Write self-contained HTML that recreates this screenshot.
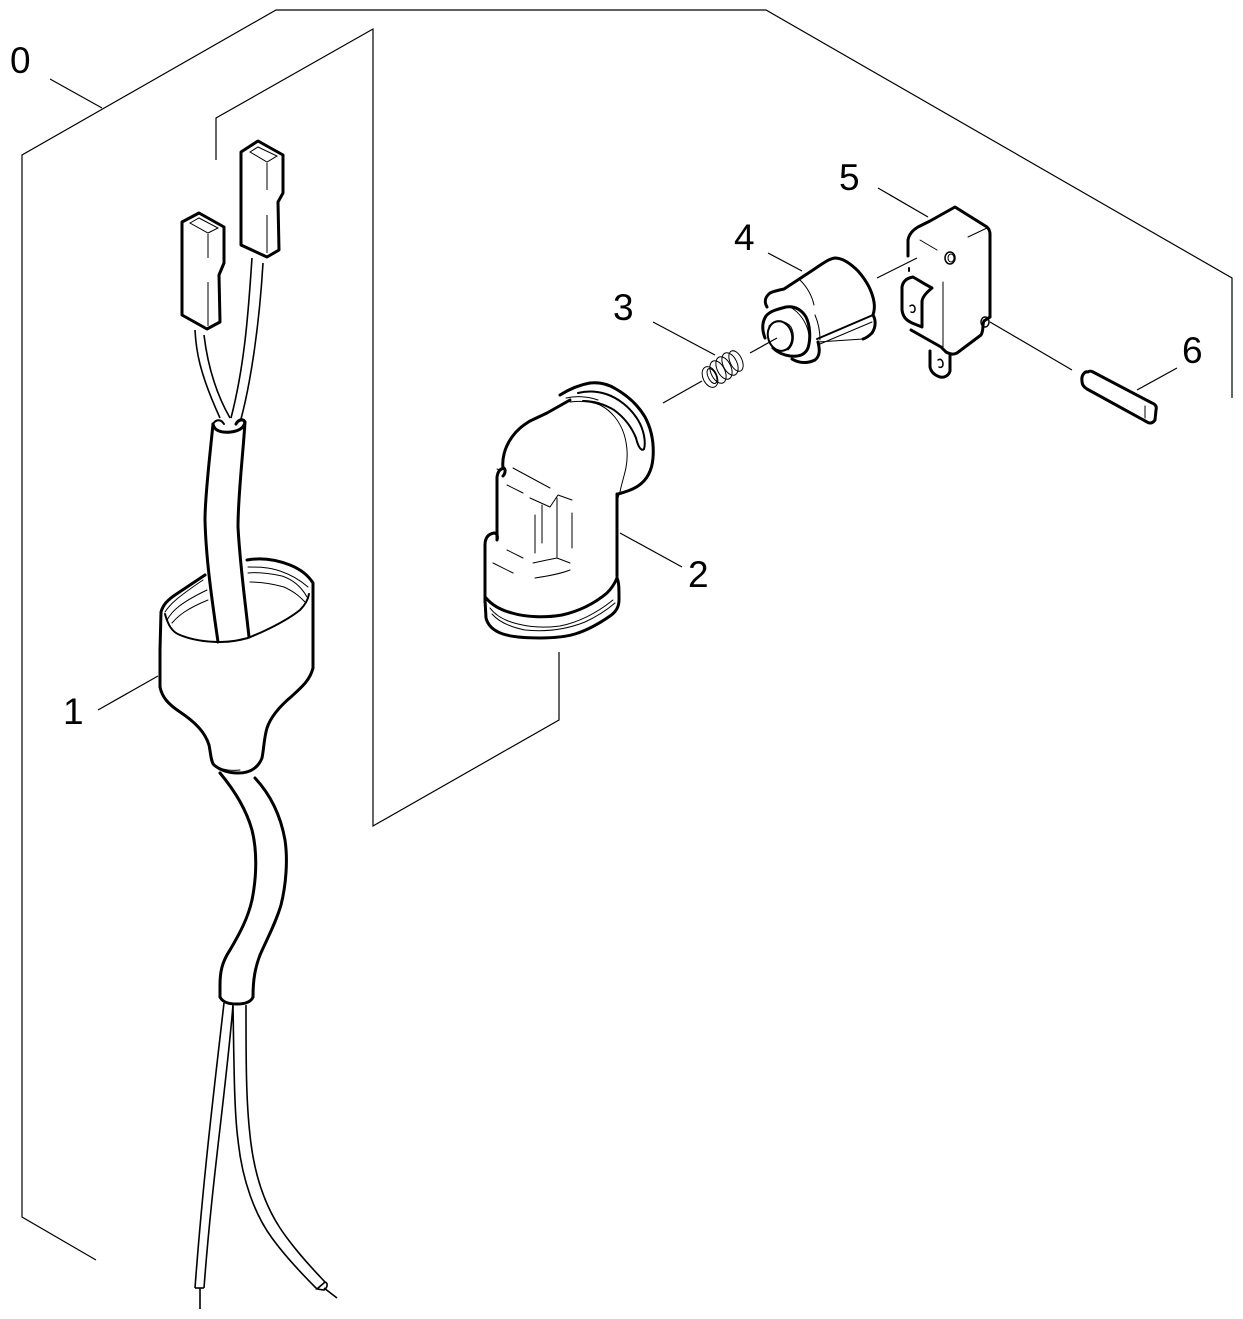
<!DOCTYPE html>
<html>
<head>
<meta charset="utf-8">
<style>
  html, body { margin: 0; padding: 0; background: #fff; }
  svg { display: block; }
  text { font-family: "Liberation Sans", "DejaVu Sans", sans-serif; font-size: 37px; fill: #000; }
</style>
</head>
<body>
<svg width="1243" height="1319" viewBox="0 0 1243 1319" xmlns="http://www.w3.org/2000/svg">
  <rect width="1243" height="1319" fill="#fff"/>

  <!-- ===== Bracket lines (thin) ===== -->
  <g fill="none" stroke="#000" stroke-width="1.2">
    <!-- outer bracket -->
    <polyline points="96,1260 22,1217 22,155 276,10 766,10 1232,278 1232,398"/>
    <!-- inner bracket -->
    <polyline points="216,160 216,118 373,29 373,826 559,720 559,652"/>
    <!-- leaders -->
    <line x1="50" y1="79" x2="102" y2="108"/>
    <line x1="98" y1="710" x2="158" y2="676"/>
    <line x1="620" y1="533" x2="682" y2="567"/>
    <line x1="653" y1="322" x2="715" y2="355"/>
    <line x1="663" y1="403" x2="702" y2="381"/>
    <line x1="750" y1="353" x2="777" y2="338"/>
    <line x1="768" y1="253" x2="802" y2="271"/>
    <line x1="878" y1="188" x2="928" y2="217"/>
    <line x1="877" y1="278" x2="917" y2="258"/>
    <line x1="990" y1="322" x2="1072" y2="370"/>
    <line x1="1177" y1="368" x2="1137" y2="390"/>
  </g>

  <!-- ===== Labels ===== -->
  <text x="10" y="73">0</text>
  <text x="63" y="724">1</text>
  <text x="688" y="587">2</text>
  <text x="613" y="320">3</text>
  <text x="734" y="250">4</text>
  <text x="839" y="190">5</text>
  <text x="1182" y="363">6</text>

  <!-- ===== Part 1 : wires + connectors + funnel ===== -->
  <!-- connector wires (thin double lines) -->
  <g fill="none" stroke="#000" stroke-width="1.6">
    <path d="M195,330 C196,350 199,372 220,418"/>
    <path d="M204,335 C207,360 214,390 230,418"/>
    <path d="M252,258 C249,300 246,360 231,418"/>
    <path d="M263,263 C259,330 250,385 241,419"/>
  </g>

  <!-- right (tall) connector -->
  <g fill="none" stroke="#000">
    <polygon points="241,152 258,141 283,155 283,193 278,202 279,250 267,257 241,245" stroke-width="3" stroke-linejoin="round" fill="#fff"/>
    <polygon points="250,152 258,147 277,156 267,162" stroke-width="1"/>
    <line x1="267" y1="163" x2="267" y2="190" stroke-width="1"/>
    <line x1="267" y1="215" x2="267" y2="253" stroke-width="1"/>
  </g>
  <!-- left connector -->
  <g fill="none" stroke="#000">
    <polygon points="182,222 199,213 224,227 224,263 219,275 220,322 207,329 182,315" stroke-width="3" stroke-linejoin="round" fill="#fff"/>
    <polygon points="190,223 199,218 218,228 208,233" stroke-width="1"/>
    <line x1="208" y1="234" x2="208" y2="258" stroke-width="1"/>
    <line x1="208" y1="282" x2="208" y2="326" stroke-width="1"/>
  </g>

  <!-- sleeve (upper tube) -->
  <g fill="none" stroke="#000" stroke-width="3" stroke-linecap="round">
    <path d="M213,424 C210,455 205,495 205,520 C206,560 212,600 218,642"/>
    <path d="M245,422 C243,455 238,495 238,527 C240,565 245,600 249,637"/>
    <path d="M213,424 C214,431 222,433 231,432 C239,431 244,428 245,422 C243,418 238,420 236,424"/>
    <path d="M213,424 C216,419 221,419 224,424" stroke-width="2"/>
  </g>

  <!-- funnel -->
  <g fill="none" stroke="#000" stroke-linecap="round" stroke-linejoin="round">
    <!-- outer rim left -->
    <path d="M160,650 L161,612 C163,605 167,600 178,593 L205,575" stroke-width="3"/>
    <!-- outer rim right + right side -->
    <path d="M247,560 C258,558 272,558 290,565 C300,569 308,575 313,583 L313,668" stroke-width="3"/>
    <!-- left body -->
    <path d="M160,650 L160,687 C162,697 168,704 180,712 C195,722 205,732 209,745 C211,755 211,762 214,765 C220,770 228,773 238,773 C250,773 258,768 262,758 C264,748 264,738 267,728 C271,716 280,706 292,696 C302,687 310,680 313,668" stroke-width="3"/>
    <!-- inner opening -->
    <path d="M165,614 C168,625 172,632 180,635 C192,640 205,642 220,642 C232,642 240,640 248,638 L262,632 C275,626 290,618 300,610 C305,605 308,600 309,594" stroke-width="2"/>
    <!-- threads -->
    <g stroke-width="1">
      <path d="M165,612 C170,604 178,597 203,580"/>
      <path d="M167,620 C172,611 180,603 207,590"/>
      <path d="M172,623 C178,616 186,609 208,600"/>
      <path d="M248,567 C258,567 268,567 280,571 C292,575 300,580 308,587"/>
      <path d="M248,573 C258,572 268,573 282,576 C294,580 302,588 307,597"/>
      <path d="M250,582 C260,582 270,583 284,587 C295,592 300,597 305,602"/>
    </g>
    <!-- neck line -->
    <path d="M214,765 C222,770 232,771 240,770" stroke-width="1"/>
  </g>

  <!-- lower cable -->
  <g fill="none" stroke="#000" stroke-width="3" stroke-linecap="round">
    <path d="M220,773 C230,785 245,805 252,830 C257,850 257,875 252,900 C248,918 240,933 230,950 C222,962 220,972 220,985 L220,997"/>
    <path d="M255,778 C268,792 280,812 285,840 C288,860 286,885 281,905 C276,922 268,937 260,955 C255,968 253,980 253,997"/>
    <path d="M220,997 C223,1003 230,1004 237,1004 C245,1004 251,1002 253,997"/>
  </g>

  <!-- bottom wires -->
  <g fill="none" stroke="#000" stroke-width="1.6">
    <path d="M224,1003 C214,1090 203,1180 195,1288"/>
    <path d="M233,1005 C226,1090 212,1180 204,1288"/>
    <line x1="195" y1="1288" x2="204" y2="1288"/>
    <line x1="200" y1="1288" x2="200" y2="1309"/>
    <path d="M233,1006 C234,1060 234,1110 238,1140 C242,1180 255,1215 272,1238 C285,1256 300,1272 317,1289"/>
    <path d="M246,1005 C246,1060 246,1100 250,1135 C254,1175 265,1205 280,1228 C292,1246 306,1262 325,1282"/>
    <path d="M317,1289 L325,1282 C328,1283 328,1287 324,1290 Z"/>
    <line x1="324" y1="1288" x2="337" y2="1298"/>
  </g>

  <!-- ===== Part 2 : elbow ===== -->
  <g fill="none" stroke="#000" stroke-linecap="round" stroke-linejoin="round">
    <!-- outer outline thick -->
    <path d="M503,468 C502,460 504,448 512,437 C517,430 522,426 530,421 L547,413 L570,400" stroke-width="3"/>
    <path d="M560,395 C568,390 578,385 590,383 C600,382 608,384 616,389 C628,396 638,405 645,417 C652,430 654,445 653,458 C652,470 647,480 638,486 C632,490 625,492 618,494 L617,498" stroke-width="3"/>
    <path d="M617,494 L617,576" stroke-width="3"/>
    <path d="M617,578 C619,582 619,588 619,600 C619,607 616,612 610,616 C600,623 588,630 575,634 C565,637 555,638 540,638 C525,638 512,637 503,634 C494,631 488,626 486,618 L485,600" stroke-width="3"/>
    <path d="M485,602 L485,545 C485,538 488,534 494,533 C497,533 498,536 497,540 L497,477 C498,471 500,469 504,468 C506,470 505,474 503,476" stroke-width="3"/>
    <!-- lower collar line -->
    <path d="M486,598 C492,605 500,610 512,613 C525,617 545,618 562,615 C580,611 595,603 607,593 C612,588 615,583 617,578" stroke-width="3"/>
    <!-- flange inner groove loop -->
    <path d="M578,393 C586,391 596,391 606,394 C618,398 630,407 638,420 C644,430 646,442 644,449 C641,452 638,446 636,438 C632,428 625,418 614,410 C604,404 594,401 583,401" stroke-width="2"/>
    <path d="M570,402 C578,401 590,401 600,405 C612,411 620,422 624,434 C628,447 628,460 625,472 C623,480 621,486 620,492" stroke-width="1"/>
    <path d="M566,398 C575,396 587,396 598,400" stroke-width="1"/>
    <!-- inner thin lines -->
    <g stroke-width="1">
      <line x1="513" y1="468" x2="550" y2="488"/>
      <line x1="507" y1="485" x2="523" y2="493"/>
      <polyline points="530,498 550,507 558,495 572,500"/>
      <line x1="535" y1="515" x2="535" y2="553"/>
      <line x1="542" y1="505" x2="542" y2="543"/>
      <line x1="557" y1="498" x2="557" y2="557"/>
      <line x1="572" y1="513" x2="572" y2="548"/>
      <line x1="507" y1="550" x2="523" y2="558"/>
      <polyline points="533,563 547,560 557,558 570,563"/>
      <line x1="493" y1="563" x2="513" y2="573"/>
      <path d="M535,578 C548,576 560,574 570,570"/>
      <path d="M490,608 C496,616 505,621 518,624 C530,627 545,628 560,626 C580,622 598,612 613,600"/>
      <path d="M492,614 C499,622 510,627 525,630 C545,632 565,630 585,622 C598,616 608,609 615,603"/>
      <path d="M497,469 L500,470"/>
    </g>
  </g>

  <!-- ===== Part 3 : spring ===== -->
  <g fill="none" stroke="#000" stroke-width="1">
    <ellipse cx="710" cy="377" rx="7" ry="11" transform="rotate(-25 710 377)"/>
    <ellipse cx="712" cy="376" rx="4" ry="8" transform="rotate(-25 712 376)"/>
    <ellipse cx="718" cy="372" rx="7" ry="12" transform="rotate(-25 718 372)"/>
    <ellipse cx="724" cy="368" rx="7" ry="12" transform="rotate(-25 724 368)"/>
    <ellipse cx="730" cy="364" rx="7" ry="12" transform="rotate(-25 730 364)"/>
    <ellipse cx="736" cy="361" rx="6" ry="11" transform="rotate(-25 736 361)"/>
  </g>

  <!-- ===== Part 4 : cylinder ===== -->
  <g fill="none" stroke="#000" stroke-linecap="round" stroke-linejoin="round">
    <path d="M767,307 C764,302 765,297 770,293 C774,291 779,290 784,289 L813,270 C822,264 828,259 835,258 C842,258 850,263 858,271 C866,280 872,290 874,302 C875,308 874,312 873,315" stroke-width="3"/>
    <path d="M873,315 C876,320 876,327 872,333 C869,336 866,338 863,339" stroke-width="3"/>
    <path d="M817,339 L873,315" stroke-width="2"/>
    <path d="M820,344 L872,322" stroke-width="1"/>
    <path d="M818,342 C820,350 820,356 815,360 C809,363 800,364 792,359" stroke-width="3"/>
    <path d="M818,342 L863,339" stroke-width="1"/>
    <!-- front boss -->
    <path d="M765,338 C762,330 762,322 766,316 C770,311 778,309 786,307 C794,306 801,309 806,317 C810,325 811,338 808,348 C805,355 799,357 790,356 C783,355 777,352 773,348" stroke-width="3"/>
    <ellipse cx="780" cy="336" rx="12" ry="15" transform="rotate(-15 780 336)" stroke-width="2"/>
    <path d="M769,326 C775,320 786,320 791,327 C795,335 794,345 788,350" stroke-width="1"/>
    <path d="M790,307 C799,312 807,322 809,335" stroke-width="1"/>
    <path d="M800,280 C808,288 812,296 814,305" stroke-width="1"/>
    <path d="M815,315 C818,322 820,330 820,340" stroke-width="1"/>
  </g>

  <!-- ===== Part 5 : micro switch ===== -->
  <g fill="none" stroke="#000" stroke-linecap="round" stroke-linejoin="round">
    <path d="M908,256 L908,240 C909,234 913,230 918,227 L930,221 L955,207 L987,227 C989,229 990,231 990,234 L990,317" stroke-width="3"/>
    <path d="M990,317 L984,321 C982,325 984,330 981,335 L957,353 C953,355 950,354 946,352" stroke-width="3"/>
    <path d="M911,330 L941,347 L946,352" stroke-width="3"/>
    <!-- lever tab -->
    <path d="M922,327 L922,302 C922,297 927,292 932,288 C926,285 920,281 913,277 C907,278 903,281 902,287 L902,310 C903,317 906,320 912,323 Z" stroke-width="3"/>
    <line x1="913" y1="277" x2="932" y2="287" stroke-width="1"/>
    <path d="M910,306 C913,304 915,306 915,309 C915,312 913,313 911,312" stroke-width="1.5"/>
    <!-- terminal -->
    <path d="M930,351 L930,367 C931,372 934,375 940,377 C945,378 949,375 950,371 L950,356" stroke-width="3"/>
    <path d="M938,360 C941,358 943,361 943,364 C943,367 941,368 939,367" stroke-width="1.5"/>
    <!-- details -->
    <line x1="943" y1="282" x2="943" y2="347" stroke-width="1"/>
    <line x1="920" y1="240" x2="937" y2="250" stroke-width="1"/>
    <line x1="968" y1="237" x2="987" y2="228" stroke-width="1"/>
    <line x1="909" y1="268" x2="909" y2="271" stroke-width="2"/>
    <ellipse cx="950" cy="258" rx="5" ry="6" stroke-width="1.5"/>
    <ellipse cx="951" cy="258" rx="3" ry="4" stroke-width="1"/>
    <ellipse cx="985" cy="322" rx="4" ry="5" stroke-width="1.5"/>
  </g>

  <!-- ===== Part 6 : pin ===== -->
  <g fill="none" stroke="#000" stroke-linecap="round" stroke-linejoin="round">
    <path d="M1088,372 C1085,371 1081,375 1082,381 C1082,385 1084,387 1087,389 L1147,422 C1150,424 1153,423 1155,420 L1156,410 C1157,406 1155,404 1152,403 L1093,372 C1091,371 1089,371 1088,372 Z" stroke-width="3"/>
    <line x1="1145" y1="406" x2="1145" y2="418" stroke-width="1"/>
  </g>
</svg>
</body>
</html>
